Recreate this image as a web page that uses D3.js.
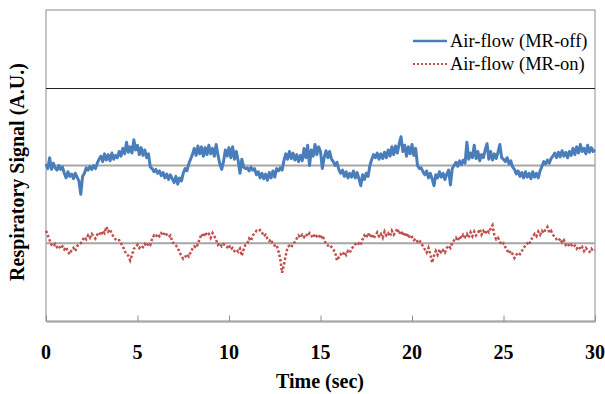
<!DOCTYPE html>
<html>
<head>
<meta charset="utf-8">
<script src="https://cdn.jsdelivr.net/npm/d3@7"></script>
<style>
  body { margin: 0; background: #fff; }
  text { font-family: "Liberation Serif", "Times New Roman", serif; }
</style>
</head>
<body>
<div id="chart"></div>
<script>
// sampled every 0.1 s, 0..30 s
let sampleStep = 0.1
let xTicks = [0, 5, 10, 15, 20, 25, 30]
let baselines = [1, 2]
let seriesNames = ['Air-flow (MR-off)', 'Air-flow (MR-on)']

let mrOff = [
  2.02, 1.96, 2.10, 1.95, 2.03, 1.97, 1.94, 2.00, 1.95, 1.98,
  1.90, 1.84, 1.92, 1.86, 1.89, 1.83, 1.90, 1.85, 1.80, 1.63,
  1.86, 1.90, 1.97, 1.94, 1.99, 1.95, 2.00, 1.96, 2.03, 2.08,
  2.12, 2.05, 2.15, 2.07, 2.14, 2.06, 2.16, 2.08, 2.13, 2.10,
  2.18, 2.12, 2.22, 2.15, 2.30, 2.17, 2.24, 2.16, 2.33, 2.20,
  2.26, 2.14, 2.23, 2.13, 2.20, 2.10, 2.15, 1.98, 1.96, 1.92,
  1.95, 1.90, 1.93, 1.87, 1.91, 1.84, 1.89, 1.82, 1.88, 1.83,
  1.78, 1.86, 1.76, 1.84, 1.80, 1.90, 1.96, 1.93, 2.02, 2.08,
  2.14, 2.22, 2.13, 2.25, 2.15, 2.24, 2.12, 2.23, 2.14, 2.26,
  2.15, 2.22, 2.12, 2.27, 2.13, 2.02, 1.95, 2.05, 2.20, 2.12,
  2.23, 2.10, 2.24, 2.08, 2.18, 2.06, 1.90, 2.08, 1.98, 1.96,
  1.97, 1.93, 1.98, 1.94, 1.96, 1.88, 1.92, 1.84, 1.90, 1.83,
  1.89, 1.81, 1.91, 1.84, 1.93, 1.85, 1.96, 1.93, 1.97, 1.94,
  2.06, 2.15, 2.08, 2.18, 2.09, 2.16, 2.07, 2.14, 2.05, 2.13,
  2.06, 2.22, 2.10, 2.26, 2.00, 2.20, 2.12, 2.27, 2.14, 2.24,
  2.18, 1.96, 2.10, 2.19, 2.10, 2.18, 2.08, 2.05, 2.00, 2.04,
  1.95, 1.90, 1.94, 1.86, 1.92, 1.84, 1.90, 1.85, 1.93, 1.84,
  1.91, 1.83, 1.74, 1.88, 1.82, 1.90, 1.86, 2.00, 2.08, 2.14,
  2.10, 2.16, 2.08, 2.15, 2.09, 2.17, 2.10, 2.20, 2.12, 2.24,
  2.14, 2.25, 2.16, 2.28, 2.37, 2.18, 2.26, 2.12, 2.24, 2.15,
  2.27, 2.13, 2.22, 2.00, 1.96, 1.97, 1.92, 1.88, 1.93, 1.84,
  1.90, 1.83, 1.74, 1.88, 1.84, 1.92, 1.85, 1.90, 1.82, 1.89,
  1.94, 1.75, 1.96, 2.00, 2.04, 1.99, 2.06, 2.01, 2.07, 2.03,
  2.30, 2.08, 2.16, 2.10, 2.26, 2.09, 2.18, 2.06, 2.14, 2.10,
  2.20, 2.28, 2.08, 2.18, 2.07, 2.15, 2.09, 2.17, 2.27, 2.10,
  2.08, 2.05, 2.10, 2.02, 2.06, 1.98, 1.95, 1.89, 1.93, 1.86,
  1.91, 1.84, 1.92, 1.85, 1.90, 1.83, 1.92, 1.85, 1.90, 1.84,
  1.93, 1.99, 2.05, 2.02, 2.07, 2.03, 2.09, 2.12, 2.16, 2.10,
  2.17, 2.11, 2.19, 2.12, 2.17, 2.10, 2.18, 2.13, 2.22, 2.14,
  2.24, 2.16, 2.27, 2.18, 2.22, 2.15, 2.26, 2.17, 2.23, 2.18,
  2.20
]

let mrOn = [
  1.16, 1.10, 1.04, 0.98, 0.96, 0.99, 0.95, 0.97, 0.93, 0.96,
  0.92, 0.95, 0.89, 0.86, 0.91, 0.94, 0.90, 0.96, 0.99, 1.00,
  1.04, 1.08, 1.05, 1.10, 1.07, 1.12, 1.09, 1.06, 1.11, 1.14,
  1.10, 1.16, 1.13, 1.21, 1.15, 1.18, 1.12, 1.08, 1.05, 1.03,
  1.04, 1.00, 0.96, 0.90, 0.86, 0.84, 0.78, 0.85, 0.93, 0.95,
  0.98, 0.94, 0.97, 0.95, 0.99, 0.96, 1.00, 0.98, 1.06, 1.10,
  1.08, 1.12, 1.09, 1.13, 1.10, 1.14, 1.11, 1.08, 1.10, 1.02,
  0.99, 0.97, 0.94, 0.88, 0.84, 0.80, 0.82, 0.86, 0.83, 0.88,
  0.93, 0.96, 0.94, 0.99, 1.06, 1.12, 1.08, 1.14, 1.10, 1.12,
  1.07, 1.13, 1.09, 1.04, 0.98, 1.00, 0.96, 0.99, 0.97, 0.95,
  0.98, 0.92, 0.94, 0.90, 0.92, 0.89, 0.93, 0.84, 0.92, 0.98,
  1.00, 1.06, 1.03, 1.10, 1.13, 1.16, 1.15, 1.17, 1.14, 1.09,
  1.11, 1.06, 1.03, 1.05, 0.99, 0.97, 0.98, 0.90, 0.80, 0.62,
  0.72, 0.84, 0.95, 0.97, 0.95, 0.99, 1.02, 1.06, 1.10, 1.07,
  1.11, 1.08, 1.12, 1.09, 1.13, 1.10, 1.07, 1.12, 1.09, 1.11,
  1.06, 1.10, 1.05, 0.99, 0.97, 0.98, 0.95, 0.92, 0.88, 0.78,
  0.82, 0.86, 0.84, 0.89, 0.85, 0.90, 0.88, 0.93, 0.96, 0.99,
  0.97, 1.00, 0.98, 1.05, 1.10, 1.07, 1.13, 1.08, 1.12, 1.06,
  1.10, 1.14, 1.09, 1.12, 1.07, 1.15, 1.10, 1.13, 1.09, 1.16,
  1.11, 1.14, 1.19, 1.12, 1.16, 1.10, 1.14, 1.08, 1.12, 1.06,
  1.08, 1.04, 1.06, 1.02, 1.04, 1.00, 0.96, 0.92, 0.88, 0.94,
  0.86, 0.75, 0.84, 0.90, 0.85, 0.92, 0.87, 0.91, 0.88, 0.94,
  0.97, 0.94, 1.00, 1.04, 1.07, 1.03, 1.09, 1.06, 1.11, 1.08,
  1.12, 1.07, 1.14, 1.09, 1.15, 1.10, 1.13, 1.18, 1.11, 1.16,
  1.12, 1.17, 1.14, 1.19, 1.23, 1.10, 1.05, 1.07, 1.02, 0.98,
  1.00, 0.95, 0.91, 0.87, 0.90, 0.86, 0.81, 0.85, 0.88, 0.86,
  0.90, 0.94, 0.97, 1.00, 0.98, 1.04, 1.08, 1.12, 1.09, 1.15,
  1.11, 1.16, 1.13, 1.18, 1.21, 1.14, 1.16, 1.11, 1.08, 1.05,
  1.03, 1.06, 1.01, 1.04, 0.98, 1.00, 0.96, 0.98, 0.95, 0.97,
  0.93, 0.96, 0.92, 0.95, 0.90, 0.94, 0.91, 0.89, 0.93, 0.90,
  0.91
]

let width = 605
let height = 394
let margin = { top: 10, right: 10, bottom: 73, left: 46 }

let svg = d3.select('#chart').append('svg')
  .attr('width', width)
  .attr('height', height)

let x = d3.scaleLinear().domain([0, 30]).range([margin.left, width - margin.right])
let y = d3.scaleLinear().domain([0, 4]).range([height - margin.bottom, margin.top])

// frame
svg.append('rect')
  .attr('x', x(0)).attr('y', y(4))
  .attr('width', x(30) - x(0)).attr('height', y(0) - y(4))
  .attr('fill', 'none').attr('stroke', '#8c8c8c').attr('stroke-width', 1)

// divider under legend
svg.append('line')
  .attr('x1', x(0)).attr('x2', x(30))
  .attr('y1', Math.round(y(3)) + 0.5).attr('y2', Math.round(y(3)) + 0.5)
  .attr('stroke', '#222').attr('stroke-width', 1)

// reference baselines
svg.selectAll('.base')
  .data(baselines)
  .enter().append('line')
  .attr('class', 'base')
  .attr('x1', x(0)).attr('x2', x(30))
  .attr('y1', function (d) { return y(d) }).attr('y2', function (d) { return y(d) })
  .attr('stroke', '#a6a6a6').attr('stroke-width', 2)

// x axis, ticks pointing inward
let xAxis = svg.append('g')
  .attr('transform', 'translate(0,' + (y(0) + 0.5) + ')')
  .call(d3.axisBottom(x).tickValues(xTicks).tickSizeInner(-6).tickSizeOuter(0).tickPadding(0))
xAxis.select('.domain').attr('stroke', '#8c8c8c')
xAxis.selectAll('.tick line').attr('stroke', '#8c8c8c')
xAxis.selectAll('.tick text').remove()

svg.selectAll('.xlab')
  .data(xTicks)
  .enter().append('text')
  .attr('class', 'xlab')
  .attr('x', function (d) { return x(d) })
  .attr('y', 359)
  .attr('text-anchor', 'middle')
  .attr('font-size', 20)
  .attr('font-weight', 'bold')
  .text(function (d) { return d })

svg.append('text')
  .attr('x', 320).attr('y', 388)
  .attr('text-anchor', 'middle')
  .attr('font-size', 20).attr('font-weight', 'bold')
  .text('Time (sec)')

svg.append('text')
  .attr('transform', 'translate(24,172) rotate(-90)')
  .attr('text-anchor', 'middle')
  .attr('font-size', 20).attr('font-weight', 'bold')
  .text('Respiratory Signal (A.U.)')

// series
let line = d3.line()
  .x(function (d, i) { return x(i * sampleStep) })
  .y(function (d) { return y(d) })

svg.append('path')
  .datum(mrOff)
  .attr('d', line)
  .attr('fill', 'none')
  .attr('stroke', '#4a7ebb')
  .attr('stroke-width', 3)
  .attr('stroke-linejoin', 'round')

svg.append('path')
  .datum(mrOn)
  .attr('d', line)
  .attr('fill', 'none')
  .attr('stroke', '#c0504d')
  .attr('stroke-width', 2.5)
  .attr('stroke-dasharray', '2.5,2')

// legend
let legend = svg.append('g')
let legendStyles = [
  { color: '#4a7ebb', dash: null, w: 2.5 },
  { color: '#c0504d', dash: '2,2', w: 2 }
]
seriesNames.forEach(function (name, i) {
  let ly = 41 + i * 23
  legend.append('line')
    .attr('x1', 413).attr('x2', 447)
    .attr('y1', ly).attr('y2', ly)
    .attr('stroke', legendStyles[i].color)
    .attr('stroke-width', legendStyles[i].w)
    .attr('stroke-dasharray', legendStyles[i].dash)
  legend.append('text')
    .attr('x', 450).attr('y', ly + 6)
    .attr('font-size', 18.5)
    .text(name)
})
</script>
</body>
</html>
